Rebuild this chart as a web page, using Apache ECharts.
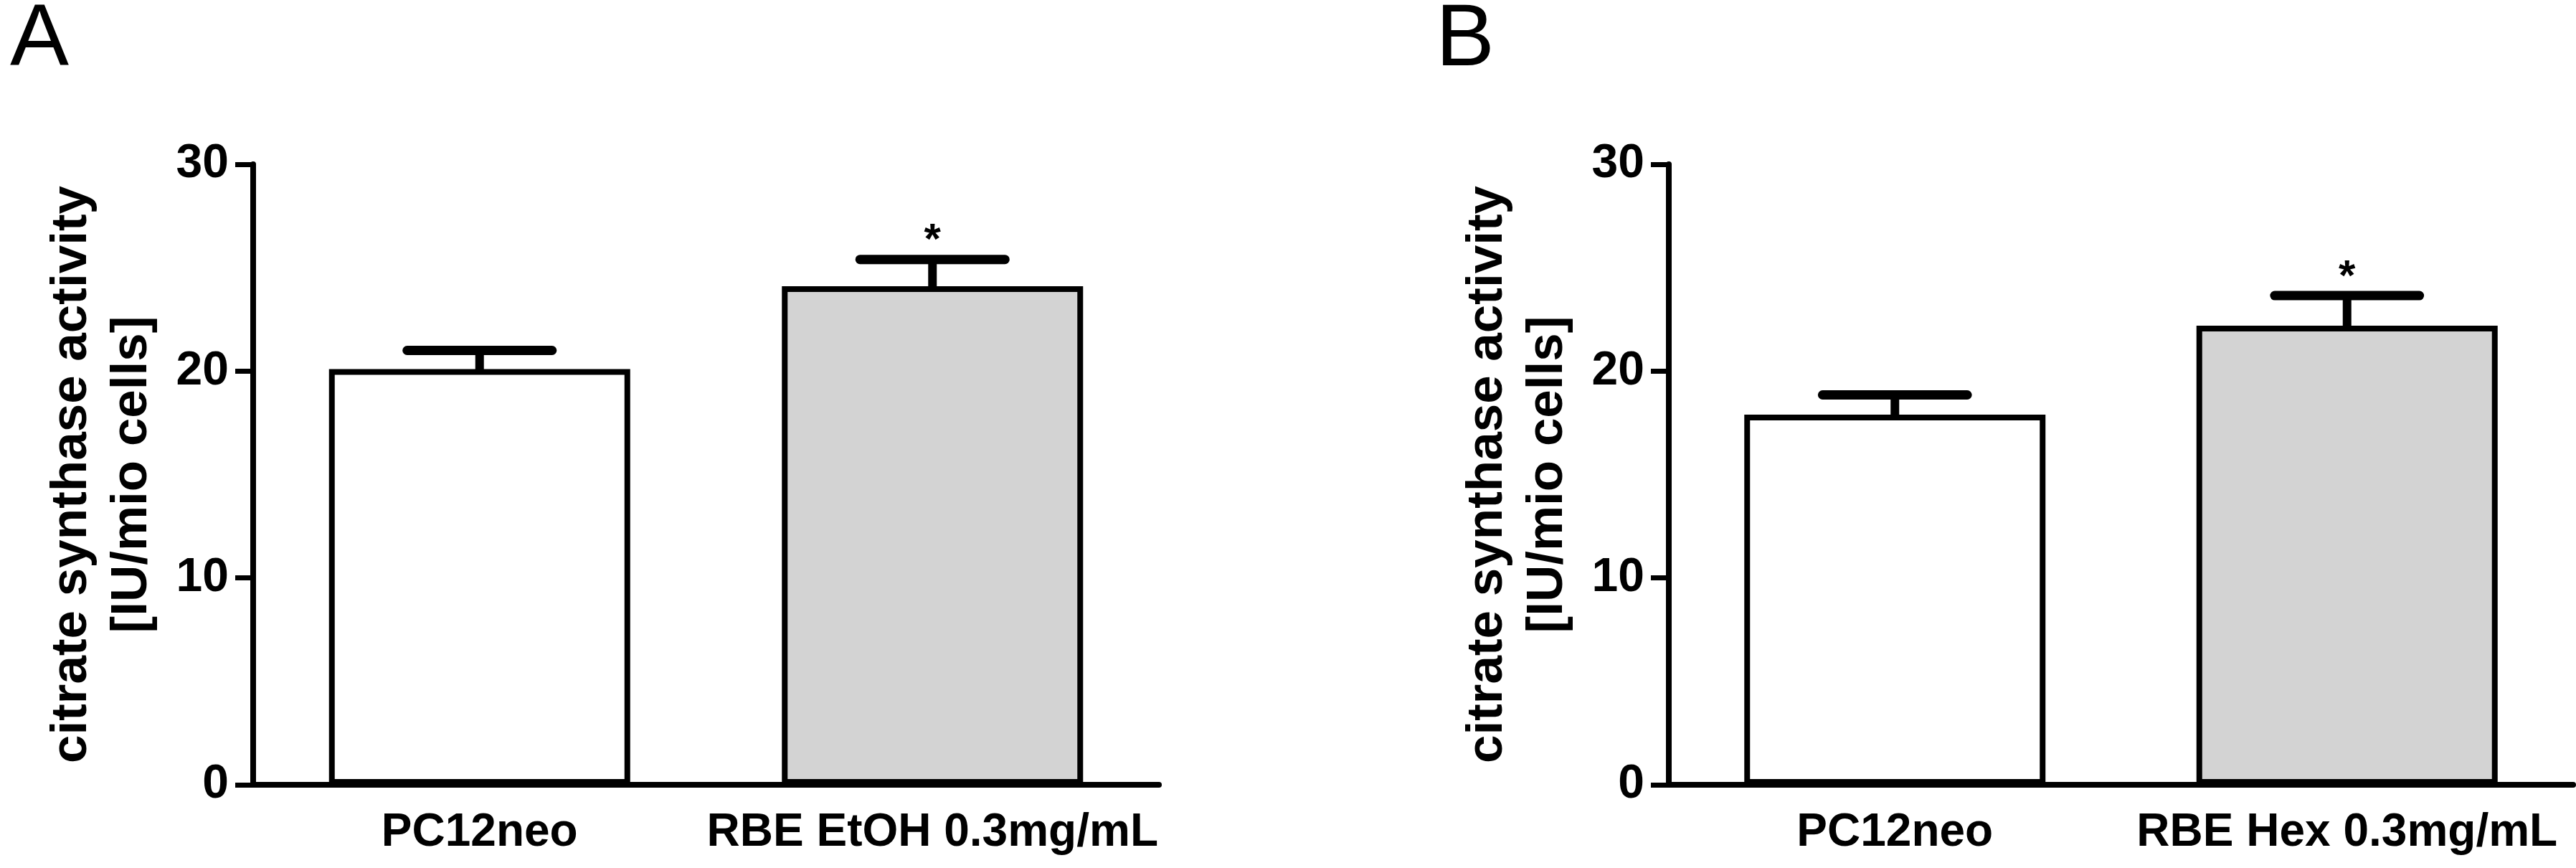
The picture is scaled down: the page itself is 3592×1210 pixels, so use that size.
<!DOCTYPE html>
<html>
<head>
<meta charset="utf-8">
<title>citrate synthase activity</title>
<script src="https://cdn.jsdelivr.net/npm/echarts@6/dist/echarts.min.js"></script>
<style>
    html, body { margin: 0; padding: 0; background: #fff; }
    #chart { width: 3592px; height: 1210px; }
</style>
</head>
<body>
<div id="chart"></div>
<script>
// panel A
var categoriesA = ['PC12neo', 'RBE EtOH 0.3mg/mL'];
var meansA = [20.1, 24.1];
var semA = [0.9, 1.3];
var starsA = ['', '*'];

// panel B
var categoriesB = ['PC12neo', 'RBE Hex 0.3mg/mL'];
var meansB = [17.9, 22.2];
var semB = [0.95, 1.45];
var starsB = ['', '*'];

var barColors = ['#ffffff', '#d3d3d3'];
var yMin = 0, yMax = 30, yStep = 10;
var yTitle = 'citrate synthase activity\n[IU/mio cells]';

var FONT = '"Liberation Sans", Arial, sans-serif';
var NARROW = '"Liberation Sans Narrow", "Liberation Sans", Arial, sans-serif';

function errData(means, sem) {
    return means.map(function (m, i) { return [i, m, sem[i]]; });
}

function makeErrRender(stars) {
    return function (params, api) {
        var idx = api.value(0);
        var mean = api.value(1);
        var err = api.value(2);
        var base = api.coord([idx, mean]);
        var top = api.coord([idx, mean + err]);
        var half = api.size([1, 0])[0] * 0.16;
        var children = [
            {
                type: 'line',
                shape: { x1: base[0], y1: base[1] + 4, x2: top[0], y2: top[1] },
                style: { stroke: '#000', lineWidth: 12 }
            },
            {
                type: 'line',
                shape: { x1: top[0] - half, y1: top[1], x2: top[0] + half, y2: top[1] },
                style: { stroke: '#000', lineWidth: 13, lineCap: 'round' }
            }
        ];
        var s = stars[params.dataIndex];
        if (s) {
            children.push({
                type: 'text',
                style: {
                    text: s, x: top[0], y: top[1] - 25,
                    textAlign: 'center', textVerticalAlign: 'middle',
                    fontSize: 60, fontWeight: 'bold', fontFamily: FONT, fill: '#000'
                }
            });
        }
        return { type: 'group', children: children };
    };
}

function xAxisFor(gridIndex, cats) {
    return {
        type: 'category',
        gridIndex: gridIndex,
        data: cats,
        axisLine: { lineStyle: { color: '#000', width: 8 } },
        axisTick: { alignWithLabel: true, length: 27, lineStyle: { color: '#000', width: 7 } },
        axisLabel: { color: '#000', fontSize: 64, fontWeight: 'bold', fontFamily: FONT, margin: 35, interval: 0 },
        splitLine: { show: false }
    };
}

function yAxisFor(gridIndex) {
    return {
        type: 'value',
        gridIndex: gridIndex,
        min: yMin, max: yMax, interval: yStep,
        name: yTitle,
        nameLocation: 'middle',
        nameGap: 127,
        nameTextStyle: { color: '#000', fontSize: 71, fontWeight: 'bold', fontFamily: FONT, lineHeight: 84 },
        axisLine: { show: true, lineStyle: { color: '#000', width: 8 } },
        axisTick: { show: true, length: 25, lineStyle: { color: '#000', width: 7 } },
        axisLabel: { color: '#000', fontSize: 66, fontWeight: 'bold', fontFamily: NARROW, margin: 34 },
        splitLine: { show: false }
    };
}

function barSeries(idx, means) {
    return {
        type: 'bar',
        xAxisIndex: idx, yAxisIndex: idx,
        barWidth: 420,
        data: means.map(function (v, i) {
            return { value: v, itemStyle: { color: barColors[i] } };
        }),
        itemStyle: { borderColor: '#000', borderWidth: 8 },
        emphasis: { disabled: true },
        z: 2
    };
}

function errSeries(idx, means, sem, stars) {
    return {
        type: 'custom',
        xAxisIndex: idx, yAxisIndex: idx,
        data: errData(means, sem),
        encode: { x: 0, y: 1 },
        renderItem: makeErrRender(stars),
        silent: true,
        z: 3
    };
}

var myChart = echarts.init(document.getElementById('chart'), null, { renderer: 'canvas' });
var option = {
    backgroundColor: '#ffffff',
    animation: false,
    graphic: [
        { type: 'text', left: 14, top: -4, style: { text: 'A', fontSize: 123, fontFamily: FONT, fill: '#000' } },
        { type: 'text', left: 2002, top: -4, style: { text: 'B', fontSize: 123, fontFamily: FONT, fill: '#000' } }
    ],
    grid: [
        { left: 353, top: 229, width: 1263, height: 865, outerBoundsMode: 'none', containLabel: false },
        { left: 2327, top: 229, width: 1261, height: 865, outerBoundsMode: 'none', containLabel: false }
    ],
    xAxis: [xAxisFor(0, categoriesA), xAxisFor(1, categoriesB)],
    yAxis: [yAxisFor(0), yAxisFor(1)],
    series: [
        barSeries(0, meansA),
        errSeries(0, meansA, semA, starsA),
        barSeries(1, meansB),
        errSeries(1, meansB, semB, starsB)
    ]
};
myChart.setOption(option);
</script>
</body>
</html>
